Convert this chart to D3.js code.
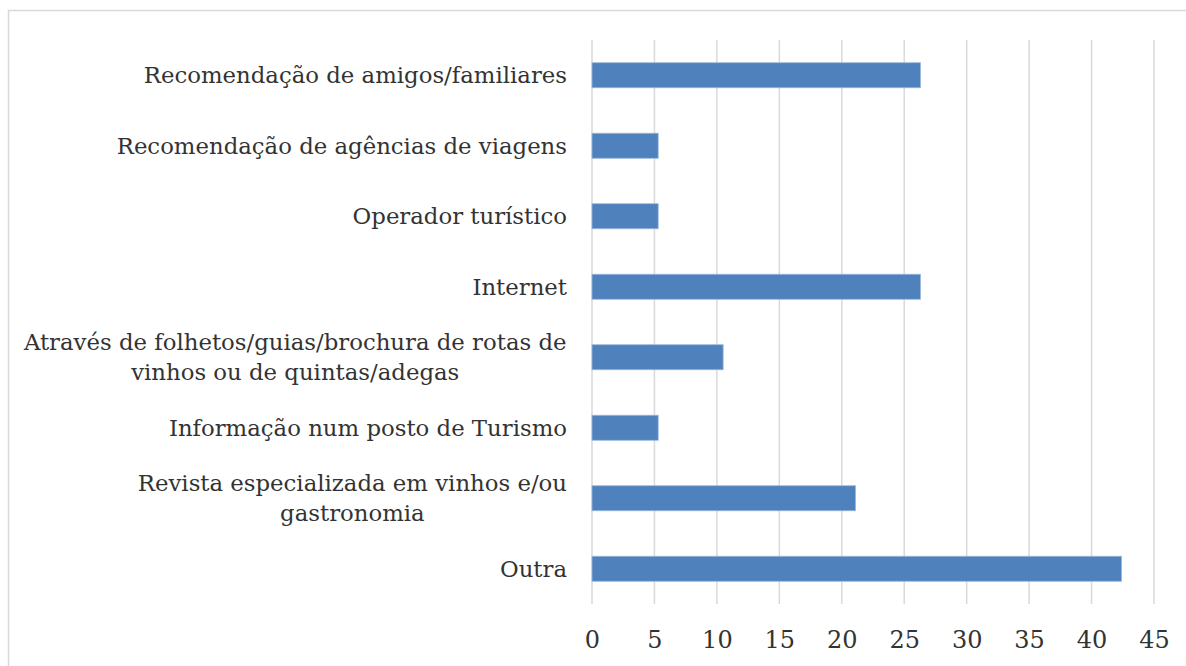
<!DOCTYPE html>
<html>
<head>
<meta charset="utf-8">
<script src="https://cdn.jsdelivr.net/npm/d3@7"></script>
<style>
  html, body { margin: 0; padding: 0; background: #ffffff; }
  svg { display: block; }
  text { font-family: "DejaVu Serif", serif; fill: #333333; }
</style>
</head>
<body>
<svg id="chart" width="1186" height="666"></svg>
<script>
// Categories, top to bottom (label lines split where the label wraps)
const categories = [
  ["Recomendação de amigos/familiares"],
  ["Recomendação de agências de viagens"],
  ["Operador turístico"],
  ["Internet"],
  ["Através de folhetos/guias/brochura de rotas de", "vinhos ou de quintas/adegas"],
  ["Informação num posto de Turismo"],
  ["Revista especializada em vinhos e/ou", "gastronomia"],
  ["Outra"]
];
const values = [26.3, 5.3, 5.3, 26.3, 10.5, 5.3, 21.1, 42.4];
const tickValues = [0, 5, 10, 15, 20, 25, 30, 35, 40, 45];

const svg = d3.select("#chart");
const W = 1186, H = 666;
const plot = { left: 592, right: 1154, top: 40, bottom: 604 };
const fontFamily = "'DejaVu Serif', serif";
const textColor = "#333333";

// Chart area border
svg.append("rect")
  .attr("x", 8.5).attr("y", 10.5)
  .attr("width", W + 10).attr("height", H + 10)
  .attr("fill", "none")
  .attr("stroke", "#d9d9d9")
  .attr("stroke-width", 1.5);

const x = d3.scaleLinear().domain([0, 45]).range([plot.left, plot.right]);
const y = d3.scaleBand()
  .domain(d3.range(categories.length))
  .range([plot.top, plot.bottom])
  .paddingInner(0.645)
  .paddingOuter(0.3225);

// Vertical gridlines
svg.append("g")
  .selectAll("line")
  .data(tickValues)
  .join("line")
  .attr("x1", d => x(d)).attr("x2", d => x(d))
  .attr("y1", plot.top).attr("y2", plot.bottom)
  .attr("stroke", "#d9d9d9")
  .attr("stroke-width", 1.5);

// Bars
svg.append("g")
  .selectAll("rect")
  .data(values)
  .join("rect")
  .attr("x", x(0))
  .attr("y", (d, i) => y(i))
  .attr("width", d => x(d) - x(0))
  .attr("height", y.bandwidth())
  .attr("fill", "#4f81bd")
  .attr("stroke", "#9bb7dc")
  .attr("stroke-width", 0.8);

// X axis tick labels
const xAxis = d3.axisBottom(x).tickValues(tickValues).tickSize(0).tickPadding(0);
const gx = svg.append("g")
  .attr("transform", `translate(0,${plot.bottom})`)
  .call(xAxis)
  .attr("font-family", fontFamily)
  .attr("font-size", 24);
gx.select(".domain").remove();
gx.selectAll("text")
  .attr("dy", null)
  .attr("y", 44)
  .style("font-family", fontFamily)
  .style("font-size", "24px")
  .attr("fill", textColor);

// Category labels, right aligned next to the axis
const lineH = 30;
const labels = svg.append("g");
categories.forEach((lines, i) => {
  const cy = y(i) + y.bandwidth() / 2;
  const t = labels.append("text")
    .attr("text-anchor", "middle")
    .style("font-family", fontFamily)
    .style("font-size", "22.8px");
  lines.forEach((ln, k) => {
    t.append("tspan")
      .attr("x", 0)
      .attr("y", cy + 8 + (k - (lines.length - 1) / 2) * lineH)
      .text(ln);
  });
  // multi-line labels are centered as a block whose right edge sits at the axis gap
  const w = t.node().getBBox().width;
  t.attr("transform", `translate(${567 - w / 2},0)`);
});
</script>
</body>
</html>
